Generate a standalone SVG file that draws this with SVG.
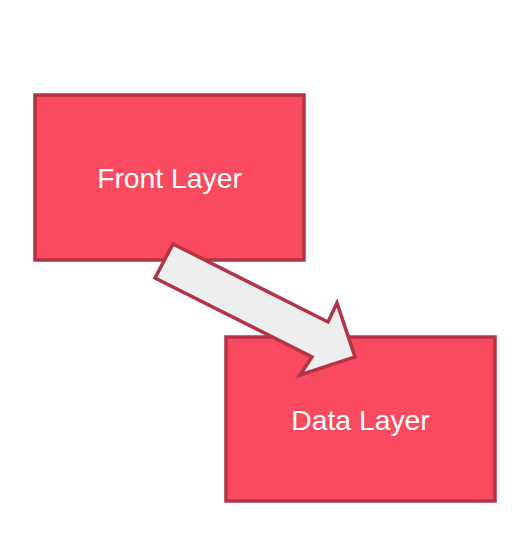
<svg xmlns="http://www.w3.org/2000/svg" width="512" height="559" viewBox="0 0 512 559">
<style>
.box{fill:#f94a5f;stroke:#b33447;stroke-width:3.5}
.lbl{font-family:"Liberation Sans",Arial,sans-serif;font-size:28.3px;fill:#ffffff;text-anchor:middle}
.arr{fill:#eeeeee;stroke:#b33447;stroke-width:3.5;stroke-linejoin:miter}
</style>
<rect width="512" height="559" fill="#ffffff"/>
<g id="front-layer">
<rect class="box" x="35" y="95" width="269" height="165"/>
<text class="lbl" x="169.5" y="188">Front Layer</text>
</g>
<g id="data-layer">
<rect class="box" x="226" y="337" width="269" height="164"/>
<text class="lbl" x="360.5" y="430">Data Layer</text>
</g>
<g id="connectors">
<polygon class="arr" points="173,244 328,322 337,303 355,357 300,375 312,357 155,278"/>
</g>
</svg>
